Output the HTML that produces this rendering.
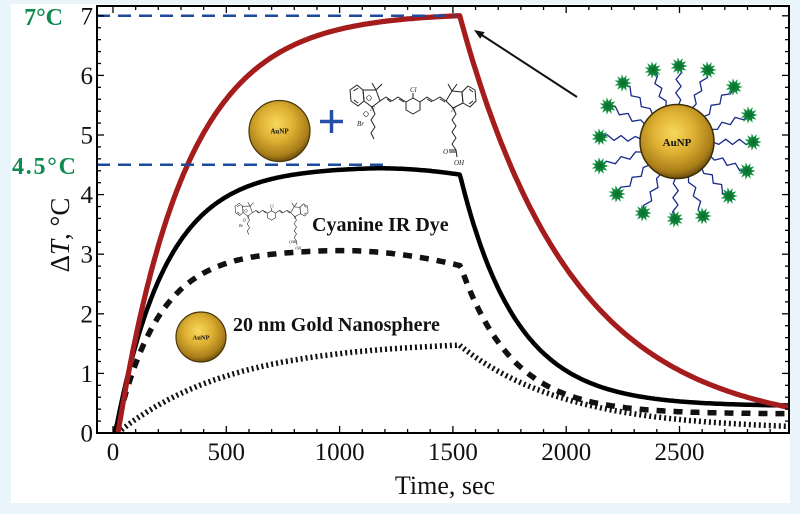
<!DOCTYPE html>
<html><head><meta charset="utf-8">
<style>
html,body{margin:0;padding:0;background:#eaf4fb;width:800px;height:514px;overflow:hidden;}
svg{display:block;}
text{font-family:"Liberation Serif",serif;}
</style></head>
<body>
<svg id="s" width="800" height="514" viewBox="0 0 800 514" xmlns="http://www.w3.org/2000/svg">
<defs>
<radialGradient id="gold" cx="0.45" cy="0.38" r="0.62">
<stop offset="0" stop-color="#f7d95c"/>
<stop offset="0.45" stop-color="#deb033"/>
<stop offset="0.85" stop-color="#a97e19"/>
<stop offset="1" stop-color="#6e500f"/>
</radialGradient>
<radialGradient id="grn" cx="0.5" cy="0.5" r="0.5">
<stop offset="0" stop-color="#0a6a2c"/>
<stop offset="1" stop-color="#13a048"/>
</radialGradient>
<clipPath id="plot"><rect x="97" y="6" width="692" height="427"/></clipPath>
</defs>
<rect x="0" y="0" width="800" height="514" fill="#eaf4fb"/>
<rect x="11" y="4" width="779" height="499" fill="#ffffff"/>

<g id="curves" clip-path="url(#plot)" fill="none"></g>

<!-- blue reference lines -->
<line x1="97" y1="15.8" x2="455" y2="15.8" stroke="#1c4a9c" stroke-width="2.5" stroke-dasharray="13 8"/>
<line x1="97" y1="164.8" x2="385" y2="164.8" stroke="#1c4a9c" stroke-width="2.5" stroke-dasharray="13 8"/>

<!-- frame -->
<rect x="97" y="6" width="692" height="427" fill="none" stroke="#000" stroke-width="2"/>
<g id="ticks" stroke="#000" stroke-width="1.3"></g>

<!-- tick labels -->
<g font-size="25" fill="#111" text-anchor="end">
<text x="93" y="441.5">0</text>
<text x="93" y="381.9">1</text>
<text x="93" y="322.3">2</text>
<text x="93" y="262.7">3</text>
<text x="93" y="203.1">4</text>
<text x="93" y="143.5">5</text>
<text x="93" y="83.9">6</text>
<text x="93" y="24.3">7</text>
</g>
<g font-size="25" fill="#111" text-anchor="middle">
<text x="113" y="460">0</text>
<text x="226.3" y="460">500</text>
<text x="339.6" y="460">1000</text>
<text x="452.9" y="460">1500</text>
<text x="566.2" y="460">2000</text>
<text x="679.5" y="460">2500</text>
</g>
<text x="445" y="494" font-size="26" text-anchor="middle" fill="#111">Time, sec</text>
<text transform="translate(69,235) rotate(-90)" font-size="27" text-anchor="middle" fill="#111">Δ<tspan font-style="italic">T</tspan>, °C</text>

<!-- green labels -->
<text x="63" y="25" font-size="24" font-weight="bold" fill="#108a50" text-anchor="end">7°C</text>
<text x="12" y="174" font-size="24" font-weight="bold" fill="#108a50" textLength="64" lengthAdjust="spacing">4.5°C</text>

<!-- spheres -->
<circle cx="279.5" cy="131" r="30.5" fill="url(#gold)" stroke="#4a3608" stroke-width="1.2"/>
<text x="279.5" y="133.5" font-size="7" font-weight="bold" text-anchor="middle" fill="#111">AuNP</text>
<circle cx="201" cy="337" r="25" fill="url(#gold)" stroke="#4a3608" stroke-width="1.2"/>
<text x="201" y="339.5" font-size="6.5" font-weight="bold" text-anchor="middle" fill="#111">AuNP</text>

<!-- plus -->
<line x1="320" y1="121.5" x2="343" y2="121.5" stroke="#2451a8" stroke-width="3.5"/>
<line x1="331.5" y1="110" x2="331.5" y2="133" stroke="#2451a8" stroke-width="3.5"/>

<g id="chem1"></g>
<g id="chem2" transform="translate(32,154) scale(0.58)"></g>

<text x="312" y="231" font-size="20" font-weight="bold" fill="#111">Cyanine IR Dye</text>
<text x="233" y="331" font-size="20" font-weight="bold" fill="#111">20 nm Gold Nanosphere</text>

<!-- arrow -->
<line x1="577" y1="97" x2="481" y2="34.5" stroke="#111" stroke-width="2"/>
<polygon points="474,30 484.6,32.1 480.2,38.8" fill="#111"/>

<!-- big AuNP -->
<g id="lig"></g>
<circle cx="677" cy="141.5" r="37" fill="url(#gold)" stroke="#3e2d07" stroke-width="1.5"/>
<text x="677" y="146" font-size="11" font-weight="bold" text-anchor="middle" fill="#111">AuNP</text>
</svg>
<script>
(function(){
const NS="http://www.w3.org/2000/svg";
function el(tag,attrs,parent){const e=document.createElementNS(NS,tag);for(const k in attrs)e.setAttribute(k,attrs[k]);parent.appendChild(e);return e;}
function X(t){return 113+0.2266*t;}
function Y(v){return 433-59.6*v;}
function mk(f,t0){
  const ts=[];for(let t=t0;t<1530;t+=6)ts.push(t);ts.push(1530);for(let t=1536;t<=2995;t+=8)ts.push(t);
  let d="";ts.forEach((t,i)=>{d+=(i?"L":"M")+X(t).toFixed(1)+","+Y(f(t)).toFixed(1);});return d;
}
const E=Math.exp;
const sq=x=>x>0?x*x:0;
const red=t=>t<=1530?7.05*(1-E(-(t-22)/302)):6.95*E(-(t-1530)/500)+0.05;
const blk=t=>t<=1530?4.47*(1-E(-(t-10)/225))-7e-7*sq(t-1100):0.45+3.9*E(-(t-1530)/250);
const dsh=t=>t<=1530?3.08*(1-E(-(t-10)/190))-8e-7*sq(t-950):0.32+2.52*E(-(t-1530)/230);
const dot=t=>t<=1530?1.55*(1-E(-(t-20)/500)):0.05+1.42*E(-(t-1530)/465);
const g=document.getElementById("curves");
el("path",{d:mk(dot,20),stroke:"#111","stroke-width":"5.5","stroke-dasharray":"2 3"},g);
el("path",{d:mk(dsh,10),stroke:"#111","stroke-width":"5.5","stroke-dasharray":"9 8"},g);
el("path",{d:mk(blk,10),stroke:"#000","stroke-width":"4.5","stroke-linejoin":"round"},g);
el("path",{d:mk(red,22),stroke:"#a51c1c","stroke-width":"5.2","stroke-linejoin":"round"},g);
// ticks
const tk=document.getElementById("ticks");
for(let k=0;k<=35;k++){const y=Y(k*0.2);const L=k%5==0?7:4;
  el("line",{x1:97,y1:y,x2:97+L,y2:y},tk);el("line",{x1:789,y1:y,x2:789-L,y2:y},tk);}
for(let k=0;k<=29;k++){const x=X(k*100);const L=k%5==0?7:4;
  el("line",{x1:x,y1:433,x2:x,y2:433-L},tk);el("line",{x1:x,y1:6,x2:x,y2:6+L},tk);}
// chem structure
function chem(p){
  const s={stroke:"#222","stroke-width":"1","fill":"none","stroke-linejoin":"round"};
  const pl=(pts)=>{const a=Object.assign({points:pts.map(q=>q.join(",")).join(" ")},s);el("polyline",a,p);};
  const pg=(pts)=>{const a=Object.assign({points:pts.map(q=>q.join(",")).join(" ")},s);el("polygon",a,p);};
  pg([[363,90],[364,101],[358,106],[351,101],[350,90],[357,85]]);
  pl([[353.5,91],[358,88]]);pl([[354,100],[358,103]]);
  pg([[363,90],[364,101],[372,107],[380,101],[376,90]]);
  pl([[376,90],[372,83]]);pl([[376,90],[382,84]]);
  pl([[380,101],[386,97],[392,101],[398,97],[406,102]]);
  pl([[387,99],[391,102]]);pl([[399,99],[404,102]]);
  pg([[413,98],[420,102],[420,110],[413,114],[406,110],[406,102]]);
  pl([[413,98],[413,93]]);
  pl([[420,102],[427,97],[433,101],[440,97],[446,101]]);
  pl([[427,99],[432,102]]);pl([[440,99],[445,102]]);
  pg([[446,101],[452,91],[462,92],[463,103],[453,108]]);
  pl([[452,91],[448,84]]);pl([[452,91],[457,84]]);
  pg([[462,92],[463,103],[470,107],[476,101],[475,90],[468,86]]);
  pl([[469,89],[473,92]]);pl([[469,104],[473,101]]);
  pl([[453,108],[456,114],[452,120],[456,126],[452,132],[456,138],[452,144],[456,150],[457,157]]);
  pl([[456,150],[449,150]]);pl([[456,152],[449,152]]);
  pl([[372,107],[375,114],[371,120],[375,127],[371,133],[374,139]]);
  el("circle",{cx:369,cy:98,r:2.3,fill:"none",stroke:"#222","stroke-width":"0.7"},p);
  el("circle",{cx:366,cy:114,r:2.3,fill:"none",stroke:"#222","stroke-width":"0.7"},p);
  const tx=(x,y,t,fs)=>{const e=el("text",{x:x,y:y,"font-size":fs||7,"font-style":"italic",fill:"#222"},p);e.textContent=t;};
  tx(410,92,"Cl");tx(370,111,"N");tx(357,126,"Br");tx(451,112,"N");tx(443,154,"O");tx(454,165,"OH");
}
chem(document.getElementById("chem1"));
chem(document.getElementById("chem2"));
// ligands and stars
const lig=document.getElementById("lig");
const cx=677,cy=141.5,R=37;
const stars=[[653,70],[679,66],[708,70],[734,87],[749,115],[753,142],[747,171],[729,196],[703,216],[675,219],[643,213],[617,194],[600,166],[600,137],[608,106],[623,83]];
stars.forEach(([sx,sy])=>{
  const dx=sx-cx,dy=sy-cy,L=Math.hypot(dx,dy),ux=dx/L,uy=dy/L;
  const x0=cx+ux*(R-2),y0=cy+uy*(R-2);
  const n=6,px=-uy,py=ux;let d="M"+x0.toFixed(1)+","+y0.toFixed(1);
  for(let i=1;i<=n;i++){const f=i/n;const a=(i<n)?((i%2?1:-1)*2.6):0;
    const x=x0+(sx-x0)*f+px*a,y=y0+(sy-y0)*f+py*a;d+="L"+x.toFixed(1)+","+y.toFixed(1);}
  el("path",{d:d,stroke:"#1a2a8a","stroke-width":"1.3",fill:"none","stroke-linejoin":"round"},lig);
});
stars.forEach(([sx,sy])=>{
  let pts=[];const N=11;
  for(let i=0;i<2*N;i++){const r=i%2?4.6:8.8;const a=i*Math.PI/N;pts.push((sx+r*Math.cos(a)).toFixed(1)+","+(sy+r*Math.sin(a)).toFixed(1));}
  el("polygon",{points:pts.join(" "),fill:"url(#grn)"},lig);
});
})();
</script>
</body></html>
